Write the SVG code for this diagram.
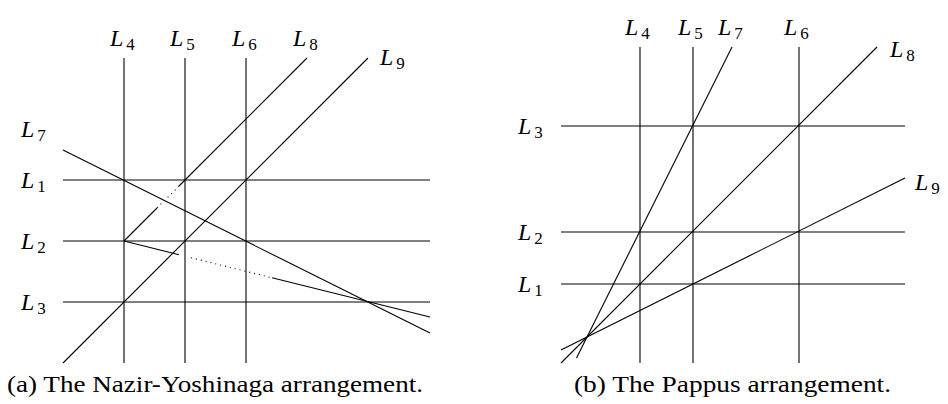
<svg xmlns="http://www.w3.org/2000/svg" width="948" height="404" viewBox="0 0 948 404">
<style>
.ln{stroke:#000;stroke-width:1.1;fill:none;stroke-linecap:butt}
.dot{stroke:#000;stroke-width:1.1;fill:none;stroke-dasharray:1 4}
text{font-family:'Liberation Serif','DejaVu Serif','Times New Roman',serif;fill:#000}
.lab{font-size:24px;font-style:italic}
.sub{font-style:normal;font-size:17px}
.cap{font-size:24px}
</style>
<rect width="948" height="404" fill="#fff"/>
<g id="fig-a">
  <g id="a-L1"><line class="ln" x1="63" y1="180" x2="430" y2="180"/><text class="lab" x="21" y="188">L<tspan class="sub" dx="3" dy="4">1</tspan></text></g>
  <g id="a-L2"><line class="ln" x1="63" y1="241" x2="430" y2="241"/><text class="lab" x="21" y="249">L<tspan class="sub" dx="3" dy="4">2</tspan></text></g>
  <g id="a-L3"><line class="ln" x1="63" y1="302" x2="430" y2="302"/><text class="lab" x="21" y="310">L<tspan class="sub" dx="3" dy="4">3</tspan></text></g>
  <g id="a-L4"><line class="ln" x1="124" y1="58" x2="124" y2="363"/><text class="lab" x="110" y="46">L<tspan class="sub" dx="3" dy="4">4</tspan></text></g>
  <g id="a-L5"><line class="ln" x1="185" y1="58" x2="185" y2="363"/><text class="lab" x="170" y="46">L<tspan class="sub" dx="3" dy="4">5</tspan></text></g>
  <g id="a-L6"><line class="ln" x1="246" y1="58" x2="246" y2="363"/><text class="lab" x="232" y="46">L<tspan class="sub" dx="3" dy="4">6</tspan></text></g>
  <g id="a-L7"><line class="ln" x1="63" y1="150" x2="430" y2="333"/><text class="lab" x="21" y="137">L<tspan class="sub" dx="3" dy="4">7</tspan></text></g>
  <g id="a-L8">
    <line class="ln" x1="307" y1="58" x2="179" y2="186"/>
    <line class="dot" x1="179" y1="186" x2="157" y2="208"/>
    <line class="ln" x1="157" y1="208" x2="124" y2="241"/>
    <line class="ln" x1="124" y1="241" x2="179" y2="254.7"/>
    <line class="dot" x1="191" y1="257.7" x2="270" y2="277.3"/>
    <line class="ln" x1="272" y1="277.8" x2="430" y2="317"/>
    <text class="lab" x="293" y="46">L<tspan class="sub" dx="3" dy="4">8</tspan></text>
  </g>
  <g id="a-L9"><line class="ln" x1="368" y1="58" x2="63" y2="363"/><text class="lab" x="380" y="65">L<tspan class="sub" dx="3" dy="4">9</tspan></text></g>
  <text class="cap" x="7" y="392" textLength="416" lengthAdjust="spacingAndGlyphs">(a) The Nazir-Yoshinaga arrangement.</text>
</g>
<g id="fig-b">
  <g id="b-L1"><line class="ln" x1="561" y1="284" x2="905" y2="284"/><text class="lab" x="518" y="292">L<tspan class="sub" dx="3" dy="4">1</tspan></text></g>
  <g id="b-L2"><line class="ln" x1="561" y1="232" x2="905" y2="232"/><text class="lab" x="518" y="240">L<tspan class="sub" dx="3" dy="4">2</tspan></text></g>
  <g id="b-L3"><line class="ln" x1="561" y1="126" x2="905" y2="126"/><text class="lab" x="518" y="134">L<tspan class="sub" dx="3" dy="4">3</tspan></text></g>
  <g id="b-L4"><line class="ln" x1="640" y1="47" x2="640" y2="363"/><text class="lab" x="625" y="35">L<tspan class="sub" dx="3" dy="4">4</tspan></text></g>
  <g id="b-L5"><line class="ln" x1="693" y1="47" x2="693" y2="363"/><text class="lab" x="678" y="35">L<tspan class="sub" dx="3" dy="4">5</tspan></text></g>
  <g id="b-L6"><line class="ln" x1="799" y1="47" x2="799" y2="363"/><text class="lab" x="784" y="35">L<tspan class="sub" dx="3" dy="4">6</tspan></text></g>
  <g id="b-L7"><line class="ln" x1="732" y1="47" x2="576.5" y2="358"/><text class="lab" x="718" y="35">L<tspan class="sub" dx="3" dy="4">7</tspan></text></g>
  <g id="b-L8"><line class="ln" x1="877" y1="47" x2="561" y2="363"/><text class="lab" x="890" y="57">L<tspan class="sub" dx="3" dy="4">8</tspan></text></g>
  <g id="b-L9"><line class="ln" x1="905" y1="178" x2="561" y2="350"/><text class="lab" x="915" y="190">L<tspan class="sub" dx="3" dy="4">9</tspan></text></g>
  <text class="cap" x="574" y="392" textLength="317" lengthAdjust="spacingAndGlyphs">(b) The Pappus arrangement.</text>
</g>
<g id="connectors"/>
</svg>
